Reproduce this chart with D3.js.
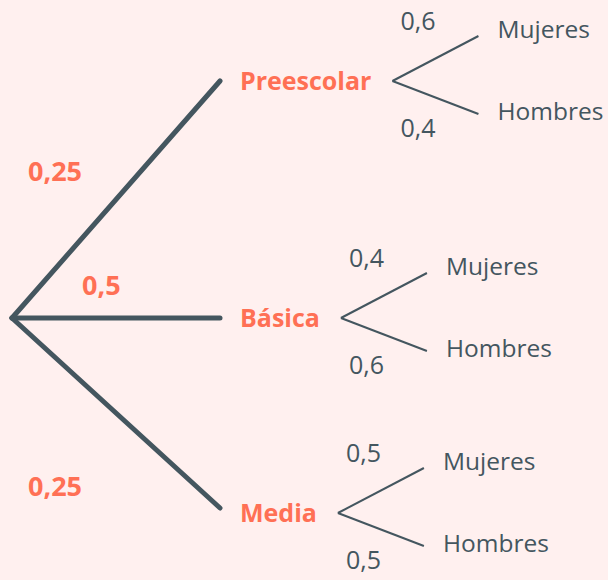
<!DOCTYPE html>
<html>
<head>
<meta charset="UTF-8">
<title></title>
<style>
  body { margin: 0; background: #fff0ef; }
  svg { display: block; }
  text { font-family: "Open Sans", sans-serif; }
</style>
</head>
<body>
<script src="https://cdn.jsdelivr.net/npm/d3@7"></script>
<script>
var levels = ["Preescolar", "Básica", "Media"];
var levelProbs = ["0,25", "0,5", "0,25"];
var genders = ["Mujeres", "Hombres"];
var genderProbs = [["0,6", "0,4"], ["0,4", "0,6"], ["0,5", "0,5"]];

var width = 608, height = 580;
var dark = "#44565f", coral = "#ff7055";

var svg = d3.select("body").append("svg")
  .attr("width", width)
  .attr("height", height);

svg.append("rect").attr("width", width).attr("height", height).attr("fill", "#fff0ef");

// vertical position of each level node
var y = d3.scaleOrdinal().domain(levels).range([81, 318, 508]);
var root = { x: 12, y: 318 };
var branchEnd = 220, labelX = 240;

// main branches
svg.selectAll("line.main")
  .data(levels)
  .enter().append("line")
  .attr("class", "main")
  .attr("x1", root.x).attr("y1", root.y)
  .attr("x2", branchEnd)
  .attr("y2", function(d) { return y(d); })
  .attr("stroke", dark)
  .attr("stroke-width", 5)
  .attr("stroke-linecap", "round");

// main probabilities
var probPos = [[28, 172], [82, 286], [28, 487]];
svg.selectAll("text.mainprob")
  .data(levelProbs)
  .enter().append("text")
  .attr("class", "mainprob")
  .attr("x", function(d, i) { return probPos[i][0]; })
  .attr("y", function(d, i) { return probPos[i][1]; })
  .attr("dy", "0.35em")
  .attr("fill", coral)
  .attr("font-weight", "bold")
  .attr("font-size", 27)
  .text(function(d) { return d; });

// level labels
var labels = svg.selectAll("text.level")
  .data(levels)
  .enter().append("text")
  .attr("class", "level")
  .attr("x", labelX)
  .attr("y", function(d) { return y(d) + (d == "Media" ? 5 : 0); })
  .attr("dy", "0.35em")
  .attr("fill", coral)
  .attr("font-weight", "bold")
  .attr("font-size", 25)
  .text(function(d) { return d; });

// sub trees
var gOff = d3.scaleOrdinal().domain(genders).range([-45, 33]);
var tOff = d3.scaleOrdinal().domain(genders).range([-52, 30]);
var pOff = d3.scaleOrdinal().domain(genders).range([-60, 47]);

labels.each(function(d, i) {
  var fx = labelX + this.getComputedTextLength() + 21;
  var fy = y(d) + (d == "Media" ? 5 : 0);
  var g = svg.append("g");
  g.selectAll("line")
    .data(genders)
    .enter().append("line")
    .attr("x1", fx).attr("y1", fy)
    .attr("x2", fx + 86)
    .attr("y2", function(s) { return fy + gOff(s); })
    .attr("stroke", dark)
    .attr("stroke-width", 2);
  g.selectAll("text.gender")
    .data(genders)
    .enter().append("text")
    .attr("class", "gender")
    .attr("x", fx + 105)
    .attr("y", function(s) { return fy + tOff(s); })
    .attr("dy", "0.35em")
    .attr("fill", dark)
    .attr("font-size", 24.5)
    .text(function(s) { return s; });
  g.selectAll("text.gprob")
    .data(genders)
    .enter().append("text")
    .attr("class", "gprob")
    .attr("x", fx + 8)
    .attr("y", function(s) { return fy + pOff(s); })
    .attr("dy", "0.35em")
    .attr("fill", dark)
    .attr("font-size", 25)
    .text(function(s, j) { return genderProbs[i][j]; });
});
</script>
</body>
</html>
